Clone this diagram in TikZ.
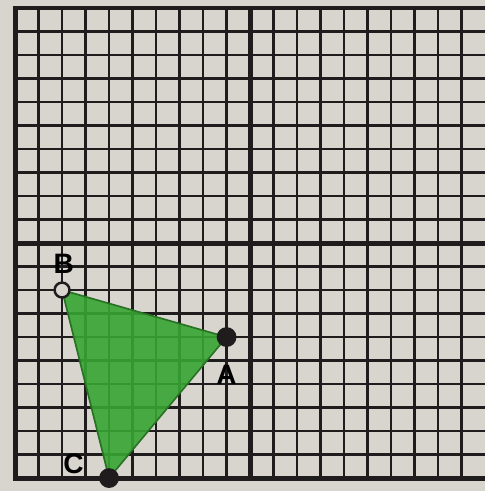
\documentclass[tikz,border=0pt]{standalone}
\usepackage{xcolor}
\usepackage{fontspec}
\setsansfont{Liberation Sans}
\usetikzlibrary{positioning}
\definecolor{paper}{RGB}{216,213,207}
\definecolor{ink}{RGB}{30,28,28}
\definecolor{marker}{RGB}{55,165,50}

\begin{document}
\begin{tikzpicture}[x=0.5cm, y=0.5cm, font=\fontsize{17}{17}\selectfont\sffamily\bfseries, minor/.style={ink, line width=1.5pt}, major/.style={ink, line width=2pt}, axis/.style={ink, line width=3pt}, dot/.style={circle, fill=ink, inner sep=0pt, minimum size=12pt}, hole/.style={circle, draw=ink, fill=paper, line width=1.5pt, inner sep=0pt, minimum size=9pt}]
\fill[paper] (-10.64,-10.55) rectangle (10,10.34);
\useasboundingbox (-10.64,-10.55) rectangle (10,10.34);
% graph paper
\foreach \i in {-9,...,9} {
  \draw[minor] (\i,-10) -- (\i,10);
  \draw[minor] (-10,\i) -- (10,\i);
}
\foreach \i in {-5,5} {
  \draw[major] (\i,-10) -- (\i,10);
  \draw[major] (-10,\i) -- (10,\i);
}
\draw[axis] (0,-10) -- (0,10);
\draw[axis] (-10,0) -- (10,0);
\draw[axis] (10,-10) -- (-10,-10) -- (-10,10) -- (10,10);
% triangle
\coordinate (A) at (-1,-4);
\coordinate (B) at (-8,-2);
\coordinate (C) at (-6,-10);
\fill[marker, draw=marker!70!black, line width=1pt, fill opacity=0.9] (A) -- (B) -- (C) -- cycle;
\node[dot] (a) at (A) {};
\node[hole] (b) at (B) {};
\node[dot] (c) at (C) {};
\node[below=0.25cm of a] (la) {A};
\node[above=0.05cm of b, xshift=1pt] (lb) {B};
\node[left=0.2cm of c, yshift=0.3cm] (lc) {C};
\end{tikzpicture}
\end{document}
